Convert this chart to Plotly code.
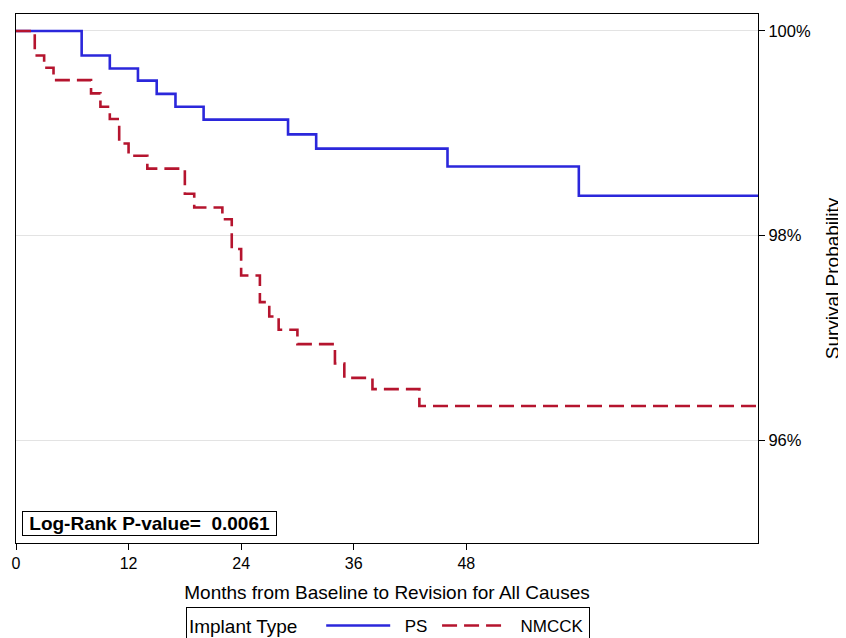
import plotly.graph_objects as go

# Kaplan-Meier step data (months, survival %)
ps_time = [0, 7, 10, 13, 15, 17, 20, 29, 32, 46, 60, 79.1]
ps_surv = [100.0, 99.76, 99.633, 99.515, 99.385, 99.26, 99.134, 98.99, 98.85, 98.675, 98.39, 98.39]

nmcck_time = [0, 2, 3, 4, 8, 9, 10, 11, 12, 14, 18, 19, 22, 23, 24, 26, 27, 28, 30, 34, 35, 38, 43, 79.1]
nmcck_surv = [100.0, 99.76, 99.64, 99.52, 99.39, 99.26, 99.14, 98.90, 98.78, 98.655, 98.41, 98.275,
              98.16, 97.87, 97.61, 97.35, 97.21, 97.08, 96.94, 96.75, 96.61, 96.50, 96.335, 96.335]

x_ticks = [0, 12, 24, 36, 48]
y_ticks = [96, 98, 100]
y_ticklabels = ["96%", "98%", "100%"]
p_value_text = "Log-Rank P-value=  0.0061"
legend_title = "Implant Type"
series_names = ["PS", "NMCCK"]

FONT = "Liberation Sans, Arial, sans-serif"
NB = "&nbsp;"

# page body adds an 8px margin, so the figure is 8px smaller each way
W, H = 838, 630

fig = go.Figure()
fig.add_trace(go.Scatter(
    x=ps_time, y=ps_surv, mode="lines", name=NB * 2 + series_names[0] + NB,
    line=dict(color="#2B27DB", width=2.6, shape="hv"),
))
fig.add_trace(go.Scatter(
    x=nmcck_time, y=nmcck_surv, mode="lines", name=NB * 2 + series_names[1],
    line=dict(color="#B5142E", width=2.6, shape="hv", dash="15px,7px"),
))

fig.update_layout(
    width=W, height=H,
    margin=dict(l=8, r=88, t=6, b=95, autoexpand=False),
    paper_bgcolor="white", plot_bgcolor="white",
    font=dict(family=FONT, color="black", size=16),
    showlegend=True,
    legend=dict(
        orientation="h",
        xref="paper", yref="container",
        x=0.229, xanchor="left",
        y=(H - 599) / H, yanchor="top",
        title=dict(text=legend_title + NB * 3, font=dict(size=19, family=FONT), side="left"),
        font=dict(size=17, family=FONT),
        bordercolor="black", borderwidth=1,
        itemwidth=64,
        bgcolor="white",
    ),
    xaxis=dict(
        range=[0, 79.1],
        tickmode="array", tickvals=x_ticks,
        ticks="outside", ticklen=6, tickcolor="black",
        tickfont=dict(size=16, family=FONT),
        showgrid=False, zeroline=False, automargin=False,
        showline=True, linecolor="black", linewidth=1.2, mirror=True,
        title=dict(text="Months from Baseline to Revision for All Causes",
                   font=dict(size=19, family=FONT), standoff=14),
    ),
    yaxis=dict(
        range=[94.996, 100.166],
        side="right", automargin=False,
        tickmode="array", tickvals=y_ticks, ticktext=y_ticklabels,
        ticks="outside", ticklen=6, tickcolor="black",
        tickfont=dict(size=16.5, family=FONT),
        showgrid=True, gridcolor="#E3E3E3", gridwidth=1.2,
        zeroline=False,
        showline=True, linecolor="black", linewidth=1.2, mirror=True,
        title=dict(text="Survival Probability", font=dict(size=19, family=FONT), standoff=15),
    ),
    annotations=[dict(
        text="<b>" + NB + p_value_text + NB + "</b>",
        xref="paper", yref="paper",
        x=0.0085, y=0.0127, xanchor="left", yanchor="bottom",
        showarrow=False,
        font=dict(size=19, family=FONT, color="black"),
        bordercolor="black", borderwidth=1, borderpad=1,
        bgcolor="white",
    )],
)

fig.write_html("out.html")
